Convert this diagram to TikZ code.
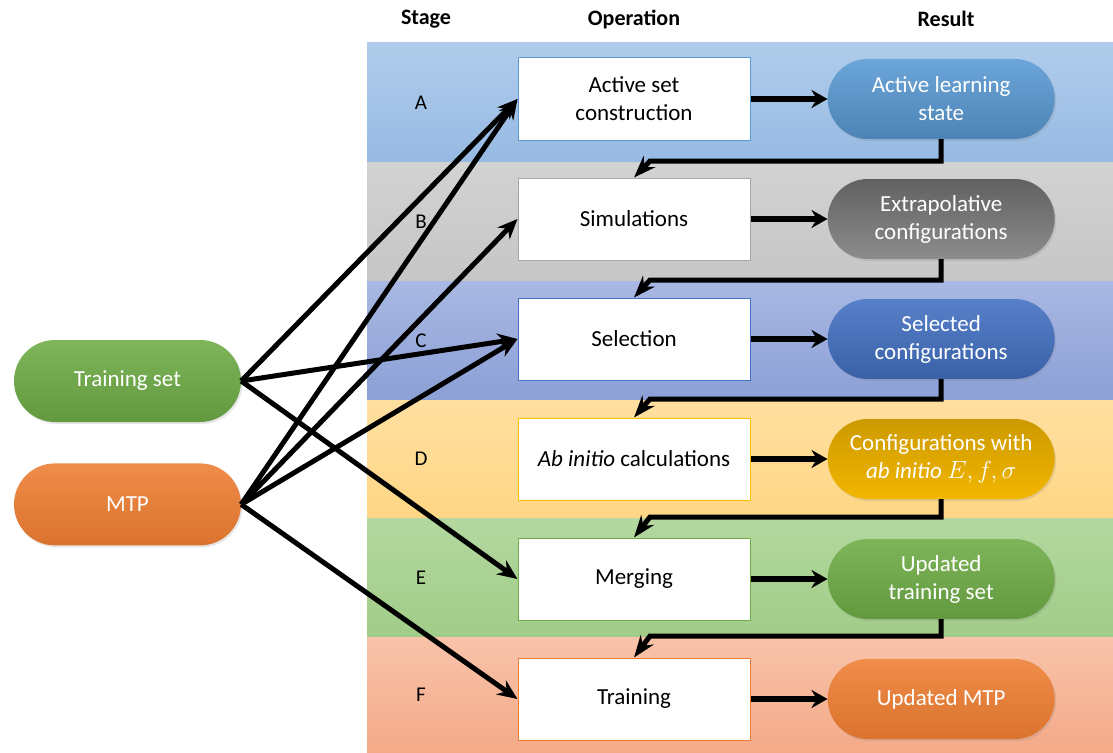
\documentclass[tikz,border=0pt]{standalone}
\usepackage{fontspec}
\setmainfont{Carlito}
\usetikzlibrary{shapes.misc,arrows.meta,positioning,calc,shadows}
\usepackage{xcolor}
\definecolor{bandAt}{HTML}{B0CCEB}\definecolor{bandAb}{HTML}{97BAE3}
\definecolor{bandBt}{HTML}{D2D2D2}\definecolor{bandBb}{HTML}{C6C6C6}
\definecolor{bandCt}{HTML}{A9B8E3}\definecolor{bandCb}{HTML}{8CA0D6}
\definecolor{bandDt}{HTML}{FFDFA0}\definecolor{bandDb}{HTML}{FFD685}
\definecolor{bandEt}{HTML}{B4D8A0}\definecolor{bandEb}{HTML}{A0CC88}
\definecolor{bandFt}{HTML}{F8C3AA}\definecolor{bandFb}{HTML}{F4AA88}
\definecolor{edgeA}{HTML}{5B9BD5}\definecolor{edgeB}{HTML}{A6A6A6}
\definecolor{edgeC}{HTML}{4472C4}\definecolor{edgeD}{HTML}{FFC000}
\definecolor{edgeE}{HTML}{70AD47}\definecolor{edgeF}{HTML}{ED7D31}
\tikzset{
  >=Stealth,
  hdr/.style={font=\bfseries\fontsize{22}{26}\selectfont},
  stg/.style={font=\fontsize{21}{25}\selectfont},
  opbox/.style={draw,line width=1pt,fill=white,align=center,minimum width=232pt,minimum height=82pt,inner sep=2pt,font=\fontsize{23}{28}\selectfont},
  pill/.style={rounded rectangle,align=center,minimum width=231pt,minimum height=80pt,inner sep=2pt,text=white,font=\fontsize{23}{28}\selectfont,drop shadow={opacity=0.2,shadow xshift=1.5pt,shadow yshift=-2pt}},
  feed/.style={line width=5pt,-{Stealth[length=20pt,width=17pt]}},
  toresult/.style={line width=5.5pt,-{Stealth[length=16pt,width=18pt]}},
  fb/.style={line width=5pt,line join=miter,-{Stealth[length=22pt,width=16pt]}}
}
\begin{document}
\begin{tikzpicture}[x=1pt,y=-1pt,node distance=37pt and 77pt]
\useasboundingbox (0,0) rectangle (1113,752);
% stage bands
\shade[top color=bandAt,bottom color=bandAb](367,43) rectangle (1113,162);
\shade[top color=bandBt,bottom color=bandBb](367,162) rectangle (1113,281);
\shade[top color=bandCt,bottom color=bandCb](367,281) rectangle (1113,400);
\shade[top color=bandDt,bottom color=bandDb](367,400) rectangle (1113,518);
\shade[top color=bandEt,bottom color=bandEb](367,518) rectangle (1113,637);
\shade[top color=bandFt,bottom color=bandFb](367,637) rectangle (1113,752);
\node[hdr](hs) at (426,19){Stage};
\node[hdr](ho) at (634,19){Operation};
\node[hdr](hr) at (946,19){Result};
\node[stg](sA) at (421,103){A};
\node[stg](sB) at (421,222){B};
\node[stg](sC) at (421,341){C};
\node[stg](sD) at (421,459){D};
\node[stg](sE) at (421,578){E};
\node[stg](sF) at (421,695){F};
% operations
\node[opbox,draw=edgeA](oA) at (634,99){Active set\\construction};
\node[opbox,draw=edgeB,below=of oA](oB){Simulations};
\node[opbox,draw=edgeC,below=of oB](oC){Selection};
\node[opbox,draw=edgeD,below=of oC](oD){\textit{Ab initio} calculations};
\node[opbox,draw=edgeE,below=of oD](oE){Merging};
\node[opbox,draw=edgeF,below=of oE](oF){Training};
% results
\node[pill,top color=edgeA!90!white,bottom color=edgeA!85!black,right=of oA](rA){Active learning\\state};
\node[pill,top color=black!62,bottom color=black!45,right=of oB](rB){Extrapolative\\configurations};
\node[pill,top color=edgeC!90!white,bottom color=edgeC!85!black,right=of oC](rC){Selected\\configurations};
\node[pill,top color=edgeD!80!black,bottom color=edgeD!95!black,right=of oD](rD){Configurations with\\\textit{ab initio} $E,f,\sigma$};
\node[pill,top color=edgeE!90!white,bottom color=edgeE!88!black,right=of oE](rE){Updated\\training set};
\node[pill,top color=edgeF!88!white,bottom color=edgeF!92!black,right=of oF](rF){Updated MTP};
% inputs
\node[pill,top color=edgeE!90!white,bottom color=edgeE!88!black,minimum height=82pt](ts) at (127.5,381){Training set};
\node[pill,top color=edgeF!88!white,bottom color=edgeF!92!black,minimum height=82pt,below=41pt of ts](mtp){MTP};
% operation -> result
\draw[toresult](oA)--(rA);\draw[toresult](oB)--(rB);\draw[toresult](oC)--(rC);
\draw[toresult](oD)--(rD);\draw[toresult](oE)--(rE);\draw[toresult](oF)--(rF);
% result -> next operation
\coordinate(kB) at (650,161);\coordinate(kC) at (650,280);\coordinate(kD) at (650,399);
\coordinate(kE) at (650,517);\coordinate(kF) at (650,636);
\draw[fb](rA.south)|-(kB)--(oB.north);
\draw[fb](rB.south)|-(kC)--(oC.north);
\draw[fb](rC.south)|-(kD)--(oD.north);
\draw[fb](rD.south)|-(kE)--(oE.north);
\draw[fb](rE.south)|-(kF)--(oF.north);
% inputs fan out
\draw[feed](ts.east)--(oA.west);
\draw[feed](ts.east)--(oC.west);
\draw[feed](ts.east)--(oE.west);
\draw[feed](mtp.east)--(oA.west);
\draw[feed](mtp.east)--(oB.west);
\draw[feed](mtp.east)--(oC.west);
\draw[feed](mtp.east)--(oF.west);
\end{tikzpicture}
\end{document}
